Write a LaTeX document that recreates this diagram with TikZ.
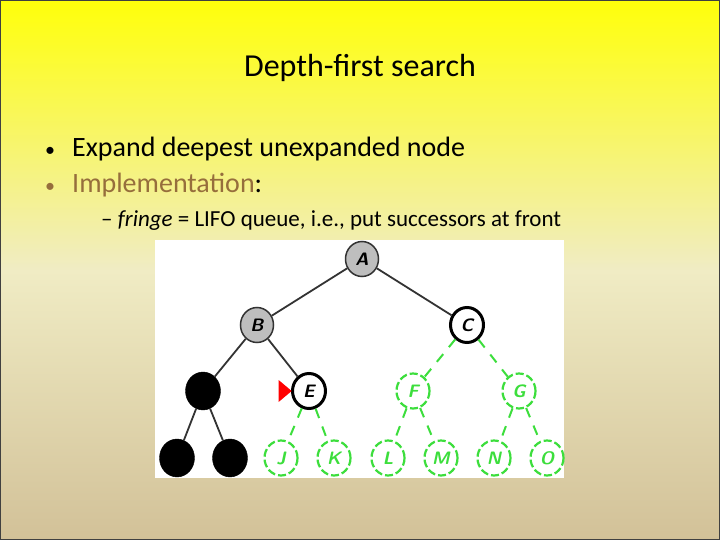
\documentclass[tikz,border=0pt]{standalone}
\usepackage{fontspec}
\setmainfont{Carlito}
\usepackage{xcolor}
\usepackage{tikz}
\usetikzlibrary{shapes,shapes.geometric,calc,arrows.meta,positioning}
\definecolor{slidetop}{RGB}{255,255,10}
\definecolor{slidemid}{RGB}{240,236,196}
\definecolor{slidebot}{RGB}{210,193,152}
\definecolor{brownish}{RGB}{150,110,60}
\definecolor{fringegreen}{RGB}{60,222,60}
\definecolor{visitgray}{RGB}{190,190,190}
\tikzset{
	thick,
	tnode/.style = {ellipse, minimum width=33pt, minimum height=35pt, inner sep=0pt,
	  font=\fontsize{18}{18}\selectfont\sffamily\bfseries\itshape},
	expanded/.style = {tnode, draw=black!80, line width=1.5pt, fill=visitgray},
	open/.style = {tnode, draw=black, line width=3pt, fill=white},
	closed/.style = {tnode, minimum width=35pt, minimum height=38pt, draw=black, fill=black},
	fresh/.style = {tnode, draw=fringegreen, line width=2.2pt,
	  dash pattern=on 8pt off 3pt, text=fringegreen},
	tedge/.style = {draw=black!80, line width=1.8pt},
	gedge/.style = {draw=fringegreen, line width=2pt, dash pattern=on 10pt off 9pt},
	marker/.style = {isosceles triangle, isosceles triangle apex angle=80,
	  fill=red, inner sep=0pt, minimum height=13pt, minimum width=18pt},
	bul/.style = {anchor=base west, inner sep=0pt},
}

\begin{document}
\begin{tikzpicture}[x=1pt,y=-1pt]
    % slide background
    \shade[top color=slidetop, bottom color=slidebot, middle color=slidemid]
      (0,0) rectangle (720,540);
    \draw[black!75, line width=1pt] (0.5,0.5) rectangle (719.5,539.5);
    \useasboundingbox (0,0) rectangle (720,540);

    % text
    \node (title) at (360,68) {\fontsize{32}{32}\selectfont Depth-first search};
    \node[bul] (b1) at (45,157) {\fontsize{20}{20}\selectfont\textbullet};
    \node[bul] (l1) at (72,157) {\fontsize{28}{28}\selectfont Expand deepest unexpanded node};
    \node[bul, text=brownish] (b2) at (45,193) {\fontsize{20}{20}\selectfont\textbullet};
    \node[bul] (l2) at (72,193) {\fontsize{28}{28}\selectfont\textcolor{brownish}{Implementation}:};
    \node[bul] (l3) at (101,226) {\fontsize{23}{23}\selectfont -- \textit{fringe} = LIFO queue, i.e., put successors at front};

    % tree picture
    \fill[white] (155,240) rectangle (564,478);
    \node[expanded] (A) at (362,259) {A};
    \node[expanded] (B) at (257,325) {B};
    \node[open] (C) at (467,325) {C};
    \node[closed] (D) at (203,391) {};
    \node[open] (E) at (309,391) {E};
    \node[fresh] (F) at (413,391) {F};
    \node[fresh] (G) at (519,391) {G};
    \node[closed] (H) at (177,458) {};
    \node[closed] (I) at (230,458) {};
    \node[fresh] (J) at (281,458) {J};
    \node[fresh] (K) at (334,458) {K};
    \node[fresh] (L) at (388,458) {L};
    \node[fresh] (M) at (441,458) {M};
    \node[fresh] (N) at (494,458) {N};
    \node[fresh] (O) at (547,458) {O};
    \node[marker, left=-1pt of E] (ptr) {};

    \draw[tedge] (A) -- (B);
    \draw[tedge] (A) -- (C);
    \draw[tedge] (B) -- (D);
    \draw[tedge] (B) -- (E);
    \draw[tedge] (D) -- (H);
    \draw[tedge] (D) -- (I);
    \draw[gedge] (C) -- (F);
    \draw[gedge] (C) -- (G);
    \draw[gedge] (E) -- (J);
    \draw[gedge] (E) -- (K);
    \draw[gedge] (F) -- (L);
    \draw[gedge] (F) -- (M);
    \draw[gedge] (G) -- (N);
    \draw[gedge] (G) -- (O);
\end{tikzpicture}
\end{document}
